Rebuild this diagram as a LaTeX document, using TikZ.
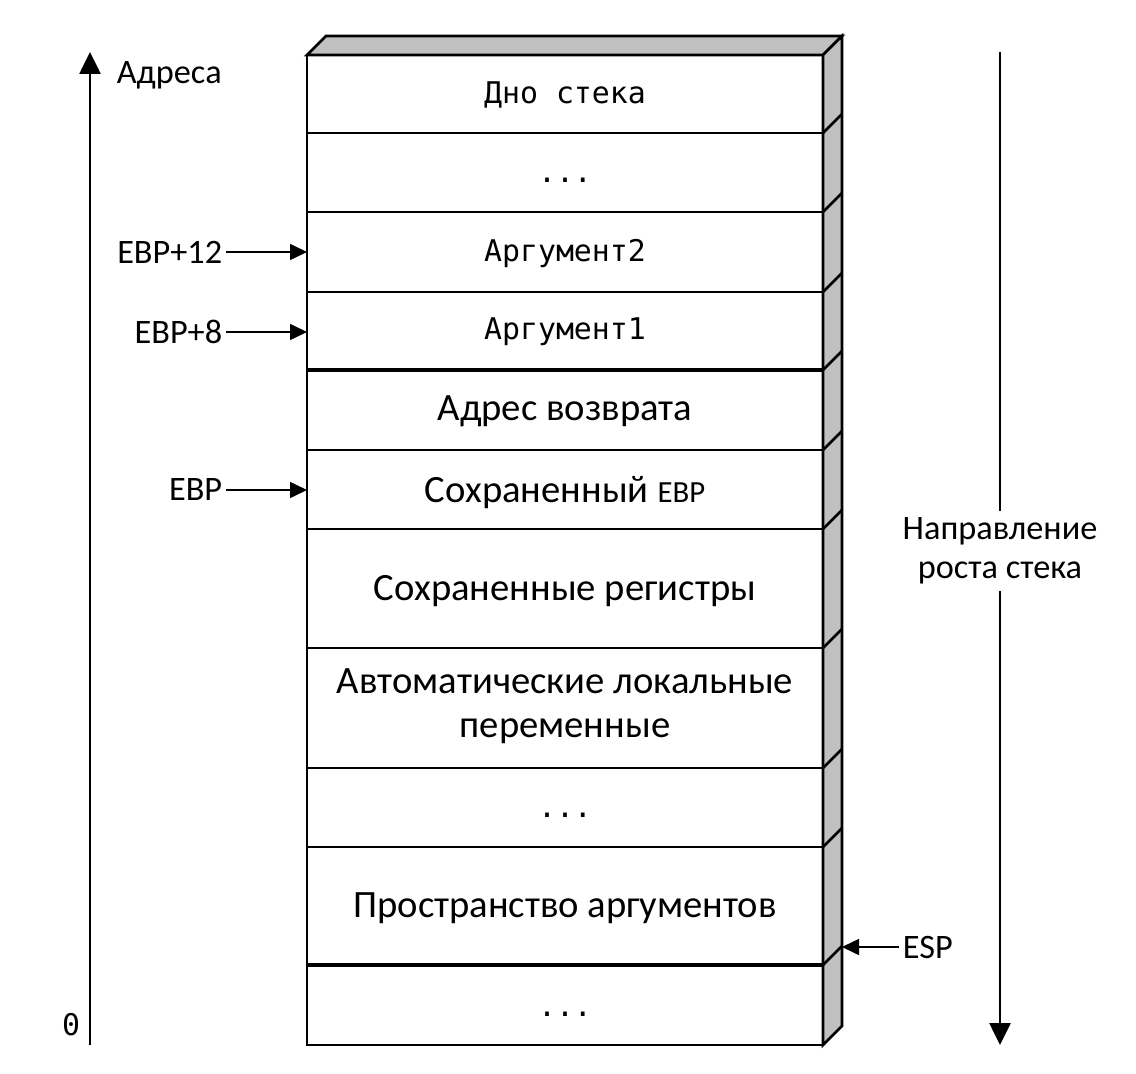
\documentclass[tikz,border=0pt]{standalone}
\usepackage{fontspec}
\setmainfont{Carlito}
\newfontfamily\stackmono{DejaVu Sans Mono}
\usetikzlibrary{
    arrows.meta,
    calc
}
\definecolor{sidegray}{HTML}{C0C0C0}

\begin{document}
\begin{tikzpicture}[x=0.02cm, y=-0.02cm,
    wall/.style={line width=1.5pt, line join=miter},
    rim/.style={line width=2.8pt},
    cell/.style={font=\fontsize{22}{25}\selectfont, align=center, inner sep=0pt},
    mono/.style={font=\stackmono\fontsize{17}{20}\selectfont, inner sep=0pt},
    lbl/.style={font=\fontsize{19.5}{22}\selectfont, inner sep=2pt},
    ptr/.style={line width=0.9pt, -{Triangle[length=0.34cm, width=0.32cm]}},
    axis/.style={line width=1.5pt, -{Triangle[length=0.44cm, width=0.42cm]}}
  ]
    \useasboundingbox (0,0) rectangle (1136,1074);

    % top and side of the stack
    \filldraw[wall, fill=sidegray] (307,55) -- (326,36) -- (842,36) -- (823,55) -- cycle;
    \filldraw[wall, fill=sidegray] (823,55) -- (842,36) -- (842,1026) -- (823,1045) -- cycle;
    \foreach \y in {133,212,292,370,450,529,648,768,847,965}
      \draw[wall] (823,\y) -- (842,\y-19);

    % front of the stack
    \draw[wall] (307,55) rectangle (823,1045);
    \foreach \y in {133,212,292,450,529,648,768,847}
      \draw[wall] (307,\y) -- (823,\y);
    \foreach \y in {370,965}
      \draw[rim] (307,\y) -- (823,\y);

    \path (565,104) node [mono, anchor=base] (bottom) {Дно стека}
          (565,183) node [mono, anchor=base] (dots1) {...}
          (565,262) node [mono, anchor=base] (arg2) {Аргумент2}
          (565,340) node [mono, anchor=base] (arg1) {Аргумент1}
          (565,420) node [cell, anchor=base] (ret) {Адрес возврата}
          (565,502) node [cell, anchor=base] (savedebp) {Сохраненный {\fontsize{17.5}{20}\selectfont EBP}}
          (565,600) node [cell, anchor=base] (regs) {Сохраненные регистры}
          (565,706) node [cell] (locals) {Автоматические локальные\\переменные}
          (565,817) node [mono, anchor=base] (dots2) {...}
          (565,917) node [cell, anchor=base] (args) {Пространство аргументов}
          (565,1016) node [mono, anchor=base] (dots3) {...};

    % address axis
    \coordinate (addrlo) at (90,1045);
    \coordinate (addrhi) at (90,52);
    \draw[axis] (addrlo) -- (addrhi);
    \node[lbl, anchor=west] (addr) at (113,75) {Адреса};
    \node[mono] (zero) at (71,1025) {0};

    % growth direction
    \coordinate (growtop) at (1000,52);
    \coordinate (growbot) at (1000,1045);
    \draw[axis] (growtop) -- (growbot);
    \node[lbl, fill=white, align=center, inner sep=4pt] (grow) at (1000,551) {Направление\\роста стека};

    % frame pointers
    \coordinate (arg2edge) at (307,252);
    \coordinate (arg1edge) at (307,332);
    \coordinate (ebpedge) at (307,490);
    \coordinate (espedge) at (842,947);
    \node[lbl, anchor=east] (ebp12) at (226,252) {EBP+12};
    \node[lbl, anchor=east] (ebp8) at (226,332) {EBP+8};
    \node[lbl, anchor=east] (ebp) at (226,490) {EBP};
    \node[lbl, anchor=west] (esp) at (899,947) {ESP};
    \draw[ptr] (ebp12) -- (arg2edge);
    \draw[ptr] (ebp8) -- (arg1edge);
    \draw[ptr] (ebp) -- (ebpedge);
    \draw[ptr] (esp) -- (espedge);
\end{tikzpicture}
\end{document}
